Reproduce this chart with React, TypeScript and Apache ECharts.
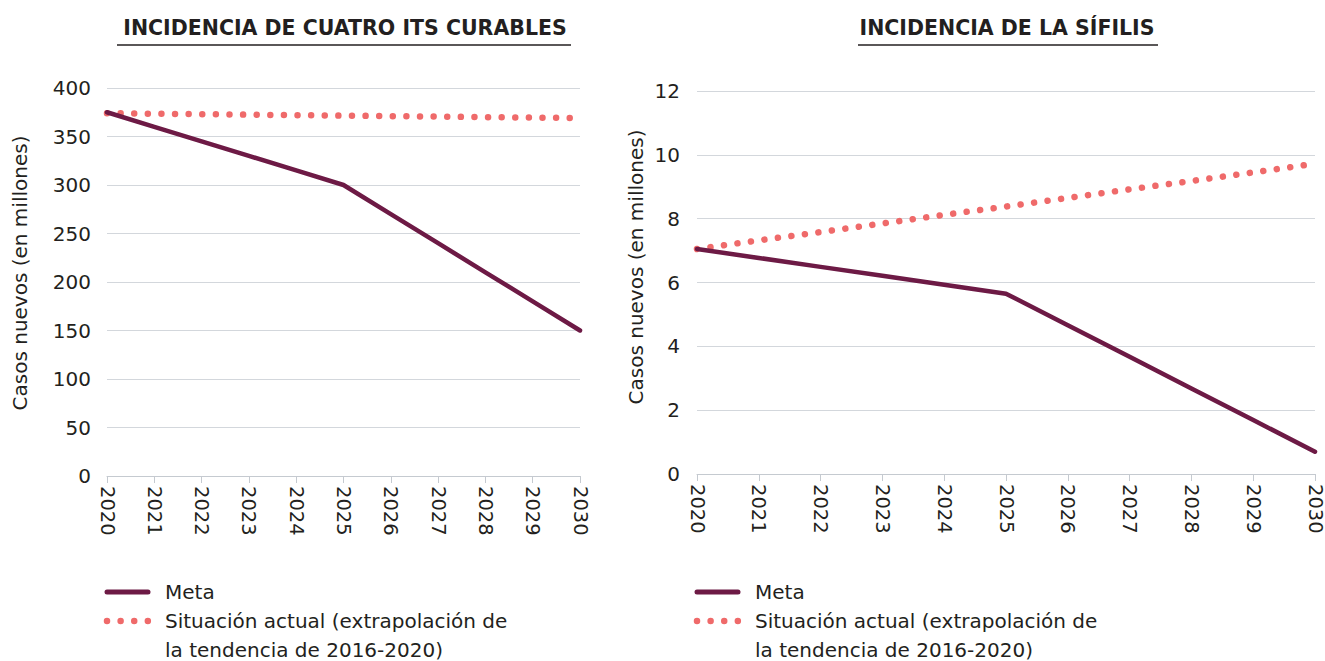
import React, { useEffect, useRef } from "react";
import * as echarts from "echarts";

const years = ["2020", "2021", "2022", "2023", "2024", "2025", "2026", "2027", "2028", "2029", "2030"];
const metaIts = [375, 360, 345, 330, 315, 300, 270, 240, 210, 180, 150];
const actualIts = [374, 373.5, 373, 372.5, 372, 371.5, 371, 370.5, 370, 369.5, 369];
const metaSif = [7.05, 6.77, 6.49, 6.21, 5.93, 5.65, 4.66, 3.67, 2.68, 1.69, 0.7];
const actualSif = [7.05, 7.32, 7.58, 7.85, 8.12, 8.38, 8.65, 8.92, 9.18, 9.45, 9.72];
const titles = ["INCIDENCIA DE CUATRO ITS CURABLES", "INCIDENCIA DE LA SÍFILIS"];
const yName = "Casos nuevos (en millones)";
const legendMeta = "Meta";
const legendActual1 = "Situación actual (extrapolación de";
const legendActual2 = "la tendencia de 2016-2020)";

const FONT = "'DejaVu Sans', sans-serif";
const TEXT = "#231f20";
const GRID = "#d3d7dc";
const MAROON = "#6d1a45";
const SALMON = "#ef6a6a";
const DOT_DASH = [0.01, 13.6];

export default function App() {
  const ref = useRef<HTMLDivElement>(null);
  useEffect(() => {
    document.body.style.margin = "0";
    const chart = echarts.init(ref.current!, null, { renderer: "svg" });
    const xAxis = (gi: number) => ({
      type: "category",
      gridIndex: gi,
      data: years,
      boundaryGap: false,
      axisLine: { lineStyle: { color: "#c5cad0", width: 1 } },
      axisTick: { show: true, length: 7, lineStyle: { color: "#c5cad0" } },
      axisLabel: { rotate: -90, color: TEXT, fontSize: 19.5, lineHeight: 18, fontFamily: FONT, margin: 10 },
    });
    const yAxis = (gi: number, max: number, interval: number, margin: number) => ({
      type: "value",
      gridIndex: gi,
      min: 0,
      max,
      interval,
      axisLine: { show: false },
      axisTick: { show: false },
      splitLine: { lineStyle: { color: GRID, width: 1 } },
      axisLabel: { color: TEXT, fontSize: 20, fontFamily: FONT, margin },
    });
    const metaSeries = (gi: number, data: number[]) => ({
      type: "line",
      name: legendMeta,
      xAxisIndex: gi,
      yAxisIndex: gi,
      data,
      symbol: "none",
      z: 3,
      lineStyle: { color: MAROON, width: 4.5, cap: "round", join: "round" },
    });
    const actualSeries = (gi: number, data: number[]) => ({
      type: "line",
      name: legendActual1,
      xAxisIndex: gi,
      yAxisIndex: gi,
      data,
      symbol: "none",
      z: 2,
      lineStyle: { color: SALMON, width: 6.5, type: DOT_DASH, cap: "round" },
    });
    const legend = (x: number) => [
      {
        type: "line",
        shape: { x1: x, y1: 592, x2: x + 41, y2: 592 },
        style: { stroke: MAROON, lineWidth: 5, lineCap: "round" },
      },
      {
        type: "text",
        x: x + 58,
        y: 592,
        style: { text: legendMeta, fill: TEXT, fontSize: 20, fontFamily: FONT, verticalAlign: "middle" },
      },
      {
        type: "line",
        shape: { x1: x, y1: 621, x2: x + 42, y2: 621 },
        style: { stroke: SALMON, lineWidth: 6.5, lineCap: "round", lineDash: DOT_DASH },
      },
      {
        type: "text",
        x: x + 58,
        y: 621,
        style: { text: legendActual1, fill: TEXT, fontSize: 20, lineHeight: 20, fontFamily: FONT, verticalAlign: "middle" },
      },
      {
        type: "text",
        x: x + 58,
        y: 650,
        style: { text: legendActual2, fill: TEXT, fontSize: 20, lineHeight: 20, fontFamily: FONT, verticalAlign: "middle" },
      },
    ];
    const title = (cx: number, x1: number, x2: number, t: string) => [
      {
        type: "text",
        x: cx,
        y: 28,
        style: {
          text: t,
          fill: TEXT,
          fontSize: 20.5,
          fontWeight: "bold",
          fontFamily: FONT,
          align: "center",
          verticalAlign: "middle",
        },
      },
      {
        type: "line",
        shape: { x1, y1: 45, x2, y2: 45 },
        style: { stroke: TEXT, lineWidth: 1.5 },
      },
    ];
    const axisName = (x: number, y: number) => ({
      type: "text",
      x,
      y,
      rotation: Math.PI / 2,
      style: { text: yName, fill: TEXT, fontSize: 20, fontFamily: FONT, align: "center", verticalAlign: "middle" },
    });
    chart.setOption({
      animation: false,
      grid: [
        { left: 107, right: 745, top: 88, bottom: 185 },
        { left: 697, right: 10, top: 91, bottom: 187 },
      ],
      xAxis: [xAxis(0), xAxis(1)],
      yAxis: [yAxis(0, 400, 50, 16), yAxis(1, 12, 2, 17)],
      series: [metaSeries(0, metaIts), actualSeries(0, actualIts), metaSeries(1, metaSif), actualSeries(1, actualSif)],
      graphic: [
        ...title(345, 117, 571, titles[0]),
        ...title(1007, 858, 1158, titles[1]),
        axisName(20, 273),
        axisName(636, 267),
        ...legend(107),
        ...legend(697),
      ],
    });
    return () => chart.dispose();
  }, []);
  return <div ref={ref} style={{ width: 1325, height: 661 }} />;
}
